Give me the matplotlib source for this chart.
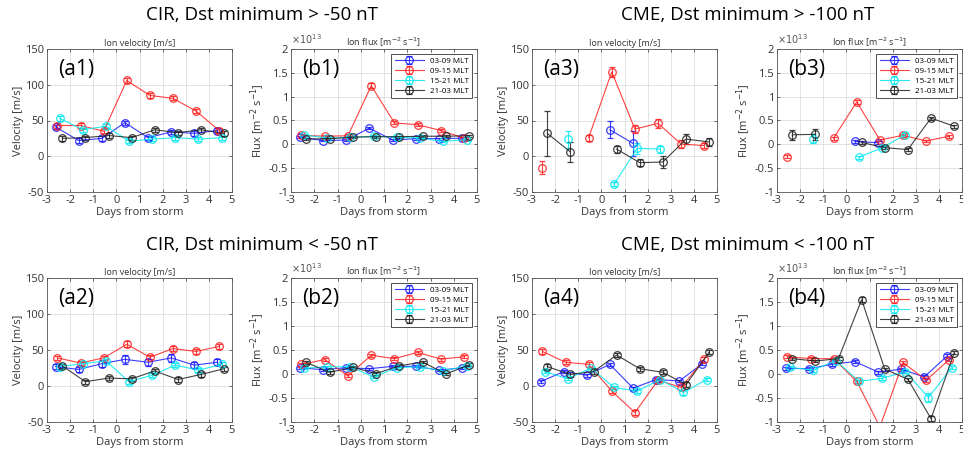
import matplotlib
matplotlib.use("Agg")
import matplotlib.pyplot as plt
import numpy as np
from matplotlib.ticker import FuncFormatter

nan = np.nan

# bin centres (days from storm) and per-sector x shift
days = np.array([-2.5, -1.5, -0.5, 0.5, 1.5, 2.5, 3.5, 4.5])
mlt_shift = [-0.13, -0.05, 0.05, 0.16]
mlt_labels = ["03-09 MLT", "09-15 MLT", "15-21 MLT", "21-03 MLT"]
mlt_colors = ["#1a1aff", "#ff2020", "#00e8f0", "#202020"]

# ion velocity [m/s], rows: 03-09, 09-15, 15-21, 21-03 MLT
vel_cir_weak = [
    [41, 22, 25, 47, 26, 34, 32, 36],
    [43, 43, 35, 106, 85, 81, 63, 36],
    [53, 37, 42, 21, 24, 26, 24, 26],
    [25, 26, 29, 26, 37, 33, 37, 32],
]
vel_cir_weak_err = [
    [3, 3, 3, 3, 3, 3, 3, 3],
    [3, 3, 3, 4, 3, 3, 3, 3],
    [3, 3, 3, 3, 3, 3, 3, 3],
    [3, 3, 3, 3, 3, 3, 3, 3],
]
vel_cir_strong = [
    [27, 23, 31, 37, 33, 39, 29, 33],
    [39, 32, 39, 58, 40, 52, 48, 55],
    [27, 31, 35, 6, 15, 29, 22, 30],
    [28, 6, 11, 10, 21, 9, 16, 24],
]
vel_cir_strong_err = [
    [4, 4, 5, 6, 5, 5, 4, 4],
    [3, 3, 3, 4, 3, 3, 3, 3],
    [3, 3, 3, 3, 3, 3, 3, 3],
    [3, 3, 3, 3, 3, 3, 3, 3],
]
vel_cme_weak = [
    [nan, nan, nan, 37, 18, nan, nan, nan],
    [-16, nan, 26, 118, 38, 46, 17, 15],
    [nan, 24, nan, -39, 11, 10, nan, nan],
    [32, 6, nan, 10, -9, -8, 24, 20],
]
vel_cme_weak_err = [
    [0, 0, 0, 12, 17, 0, 0, 0],
    [9, 0, 4, 7, 6, 6, 6, 4],
    [0, 12, 0, 3, 8, 5, 0, 0],
    [31, 14, 0, 5, 5, 9, 7, 5],
]
vel_cme_strong = [
    [6, 20, 15, 30, -3, 9, 7, 31],
    [48, 33, 30, -7, -37, 8, -2, 37],
    [20, 10, 25, -2, -7, 9, -9, 9],
    [27, 16, 20, 43, 24, 19, 2, 47],
]
vel_cme_strong_err = [
    [2, 2, 2, 2, 2, 2, 2, 2],
    [3, 3, 3, 3, 3, 3, 3, 3],
    [2, 2, 2, 2, 3, 2, 3, 2],
    [3, 3, 3, 3, 3, 3, 3, 3],
]

# ion flux [1e13 m^-2 s^-1]
flux_cir_weak = [
    [0.15, 0.08, 0.09, 0.34, 0.09, 0.12, 0.12, 0.13],
    [0.19, 0.17, 0.18, 1.23, 0.45, 0.41, 0.29, 0.13],
    [0.20, 0.13, 0.15, 0.17, 0.15, 0.13, 0.06, 0.10],
    [0.11, 0.12, 0.15, 0.16, 0.16, 0.17, 0.17, 0.18],
]
flux_cir_weak_err = [
    [0.02] * 8,
    [0.03, 0.03, 0.03, 0.05, 0.03, 0.03, 0.03, 0.03],
    [0.02] * 8,
    [0.02] * 8,
]
flux_cir_strong = [
    [0.13, 0.09, 0.13, 0.11, 0.16, 0.16, 0.08, 0.13],
    [0.20, 0.30, -0.04, 0.39, 0.32, 0.45, 0.31, 0.36],
    [0.12, 0.15, 0.15, -0.06, 0.13, 0.15, 0.06, 0.17],
    [0.24, 0.035, 0.14, 0.01, 0.17, 0.25, 0.0, 0.19],
]
flux_cir_strong_err = [
    [0.02] * 8,
    [0.03] * 8,
    [0.02] * 8,
    [0.03] * 8,
]
flux_cme_weak = [
    [nan, nan, nan, 0.06, 0.035, nan, nan, nan],
    [-0.26, nan, 0.13, 0.89, 0.09, 0.19, 0.07, 0.17],
    [nan, 0.12, nan, -0.27, -0.07, 0.20, nan, nan],
    [0.20, 0.21, nan, 0.04, -0.07, -0.11, 0.55, 0.38],
]
flux_cme_weak_err = [
    [0, 0, 0, 0.03, 0.03, 0, 0, 0],
    [0.03, 0, 0.03, 0.05, 0.03, 0.03, 0.03, 0.03],
    [0, 0.10, 0, 0.03, 0.03, 0.03, 0, 0],
    [0.10, 0.12, 0, 0.03, 0.03, 0.03, 0.03, 0.03],
]
flux_cme_strong = [
    [0.12, 0.11, 0.20, 0.26, 0.04, 0.10, -0.06, 0.38],
    [0.36, 0.32, 0.32, -0.155, -1.1, 0.24, -0.13, 0.30],
    [0.14, 0.08, 0.28, -0.155, -0.09, 0.05, -0.49, 0.13],
    [0.32, 0.27, 0.32, 1.55, 0.10, -0.11, -0.93, 0.44],
]
flux_cme_strong_err = [
    [0.03] * 8,
    [0.03] * 8,
    [0.03, 0.03, 0.03, 0.03, 0.04, 0.03, 0.10, 0.03],
    [0.03, 0.03, 0.03, 0.05, 0.03, 0.03, 0.05, 0.03],
]

group_titles = [
    "CIR, Dst minimum > -50 nT", "CME, Dst minimum > -100 nT",
    "CIR, Dst minimum < -50 nT", "CME, Dst minimum < -100 nT",
]

plt.rcParams["font.family"] = ["Open Sans", "DejaVu Sans"]
plt.rcParams["axes.unicode_minus"] = False

W, H = 963, 455
fig = plt.figure(figsize=(W / 100, H / 100), dpi=100)


def px_axes(x0, y0, x1, y1):
    return fig.add_axes([x0 / W, 1 - y1 / H, (x1 - x0) / W, (y1 - y0) / H])


def draw_panel(ax, values, errors, kind, tag, legend=False):
    for k in range(4):
        ax.errorbar(days + mlt_shift[k], values[k], yerr=errors[k],
                    color=mlt_colors[k], marker="o", mfc="none", ms=5.5,
                    mew=0.9, lw=0.8, elinewidth=0.8, capsize=2.2, capthick=0.8,
                    alpha=0.85, label=mlt_labels[k])
    ax.set_xlim(-3, 5)
    ax.set_xticks(np.arange(-3, 6, 1))
    if kind == "vel":
        ax.set_ylim(-50, 150)
        ax.set_yticks(np.arange(-50, 151, 50))
        ax.set_ylabel("Velocity [m/s]", fontsize=8, labelpad=1, color="#333333")
        ax.set_title("Ion velocity [m/s]", fontsize=6.5, pad=2, color="#333333")
    else:
        ax.set_ylim(-1, 2)
        ax.set_yticks(np.arange(-1, 2.01, 0.5))
        ax.set_ylabel("Flux [m$^{-2}$ s$^{-1}$]", fontsize=8, labelpad=1,
                      color="#333333")
        ax.set_title("Ion flux [m$^{-2}$ s$^{-1}$]", fontsize=6.5, pad=2,
                     color="#333333")
        ax.text(0.0, 1.012, r"$\times10^{13}$", transform=ax.transAxes,
                fontsize=7, color="#555555", va="bottom", ha="left")
    ax.yaxis.set_major_formatter(FuncFormatter(lambda v, _: f"{v:g}"))
    ax.set_xlabel("Days from storm", fontsize=8, labelpad=1, color="#333333")
    ax.tick_params(direction="in", top=True, right=True, labelsize=8,
                   length=2, width=0.5, pad=2, colors="#333333")
    ax.grid(True, color="#dddddd", lw=0.6)
    ax.set_axisbelow(True)
    for sp in ax.spines.values():
        sp.set_linewidth(0.6)
        sp.set_color("#555555")
    ax.text(0.06, 0.86, tag, transform=ax.transAxes, fontsize=15,
            ha="left", va="center")
    if legend:
        leg = ax.legend(loc="upper right", fontsize=5.8, frameon=True,
                        fancybox=False, edgecolor="#333333", framealpha=1,
                        handlelength=3.6, borderpad=0.4, labelspacing=0.3,
                        borderaxespad=0.6)
        leg.get_frame().set_linewidth(0.6)


top = (49, 192)
bot = (278, 422)
cols = [(47, 232), (291, 477), (532, 717), (777, 962)]

ax = px_axes(cols[0][0], top[0], cols[0][1], top[1])
draw_panel(ax, vel_cir_weak, vel_cir_weak_err, "vel", "(a1)")
ax = px_axes(cols[1][0], top[0], cols[1][1], top[1])
draw_panel(ax, flux_cir_weak, flux_cir_weak_err, "flux", "(b1)", legend=True)
ax = px_axes(cols[2][0], top[0], cols[2][1], top[1])
draw_panel(ax, vel_cme_weak, vel_cme_weak_err, "vel", "(a3)")
ax = px_axes(cols[3][0], top[0], cols[3][1], top[1])
draw_panel(ax, flux_cme_weak, flux_cme_weak_err, "flux", "(b3)", legend=True)

ax = px_axes(cols[0][0], bot[0], cols[0][1], bot[1])
draw_panel(ax, vel_cir_strong, vel_cir_strong_err, "vel", "(a2)")
ax = px_axes(cols[1][0], bot[0], cols[1][1], bot[1])
draw_panel(ax, flux_cir_strong, flux_cir_strong_err, "flux", "(b2)", legend=True)
ax = px_axes(cols[2][0], bot[0], cols[2][1], bot[1])
draw_panel(ax, vel_cme_strong, vel_cme_strong_err, "vel", "(a4)")
ax = px_axes(cols[3][0], bot[0], cols[3][1], bot[1])
draw_panel(ax, flux_cme_strong, flux_cme_strong_err, "flux", "(b4)", legend=True)

fig.text(262 / W, 1 - 15 / H, group_titles[0], fontsize=13.5, ha="center", va="center")
fig.text(748 / W, 1 - 15 / H, group_titles[1], fontsize=13.5, ha="center", va="center")
fig.text(262 / W, 1 - 245 / H, group_titles[2], fontsize=13.5, ha="center", va="center")
fig.text(748 / W, 1 - 245 / H, group_titles[3], fontsize=13.5, ha="center", va="center")

fig.savefig("out.png", dpi=100)
